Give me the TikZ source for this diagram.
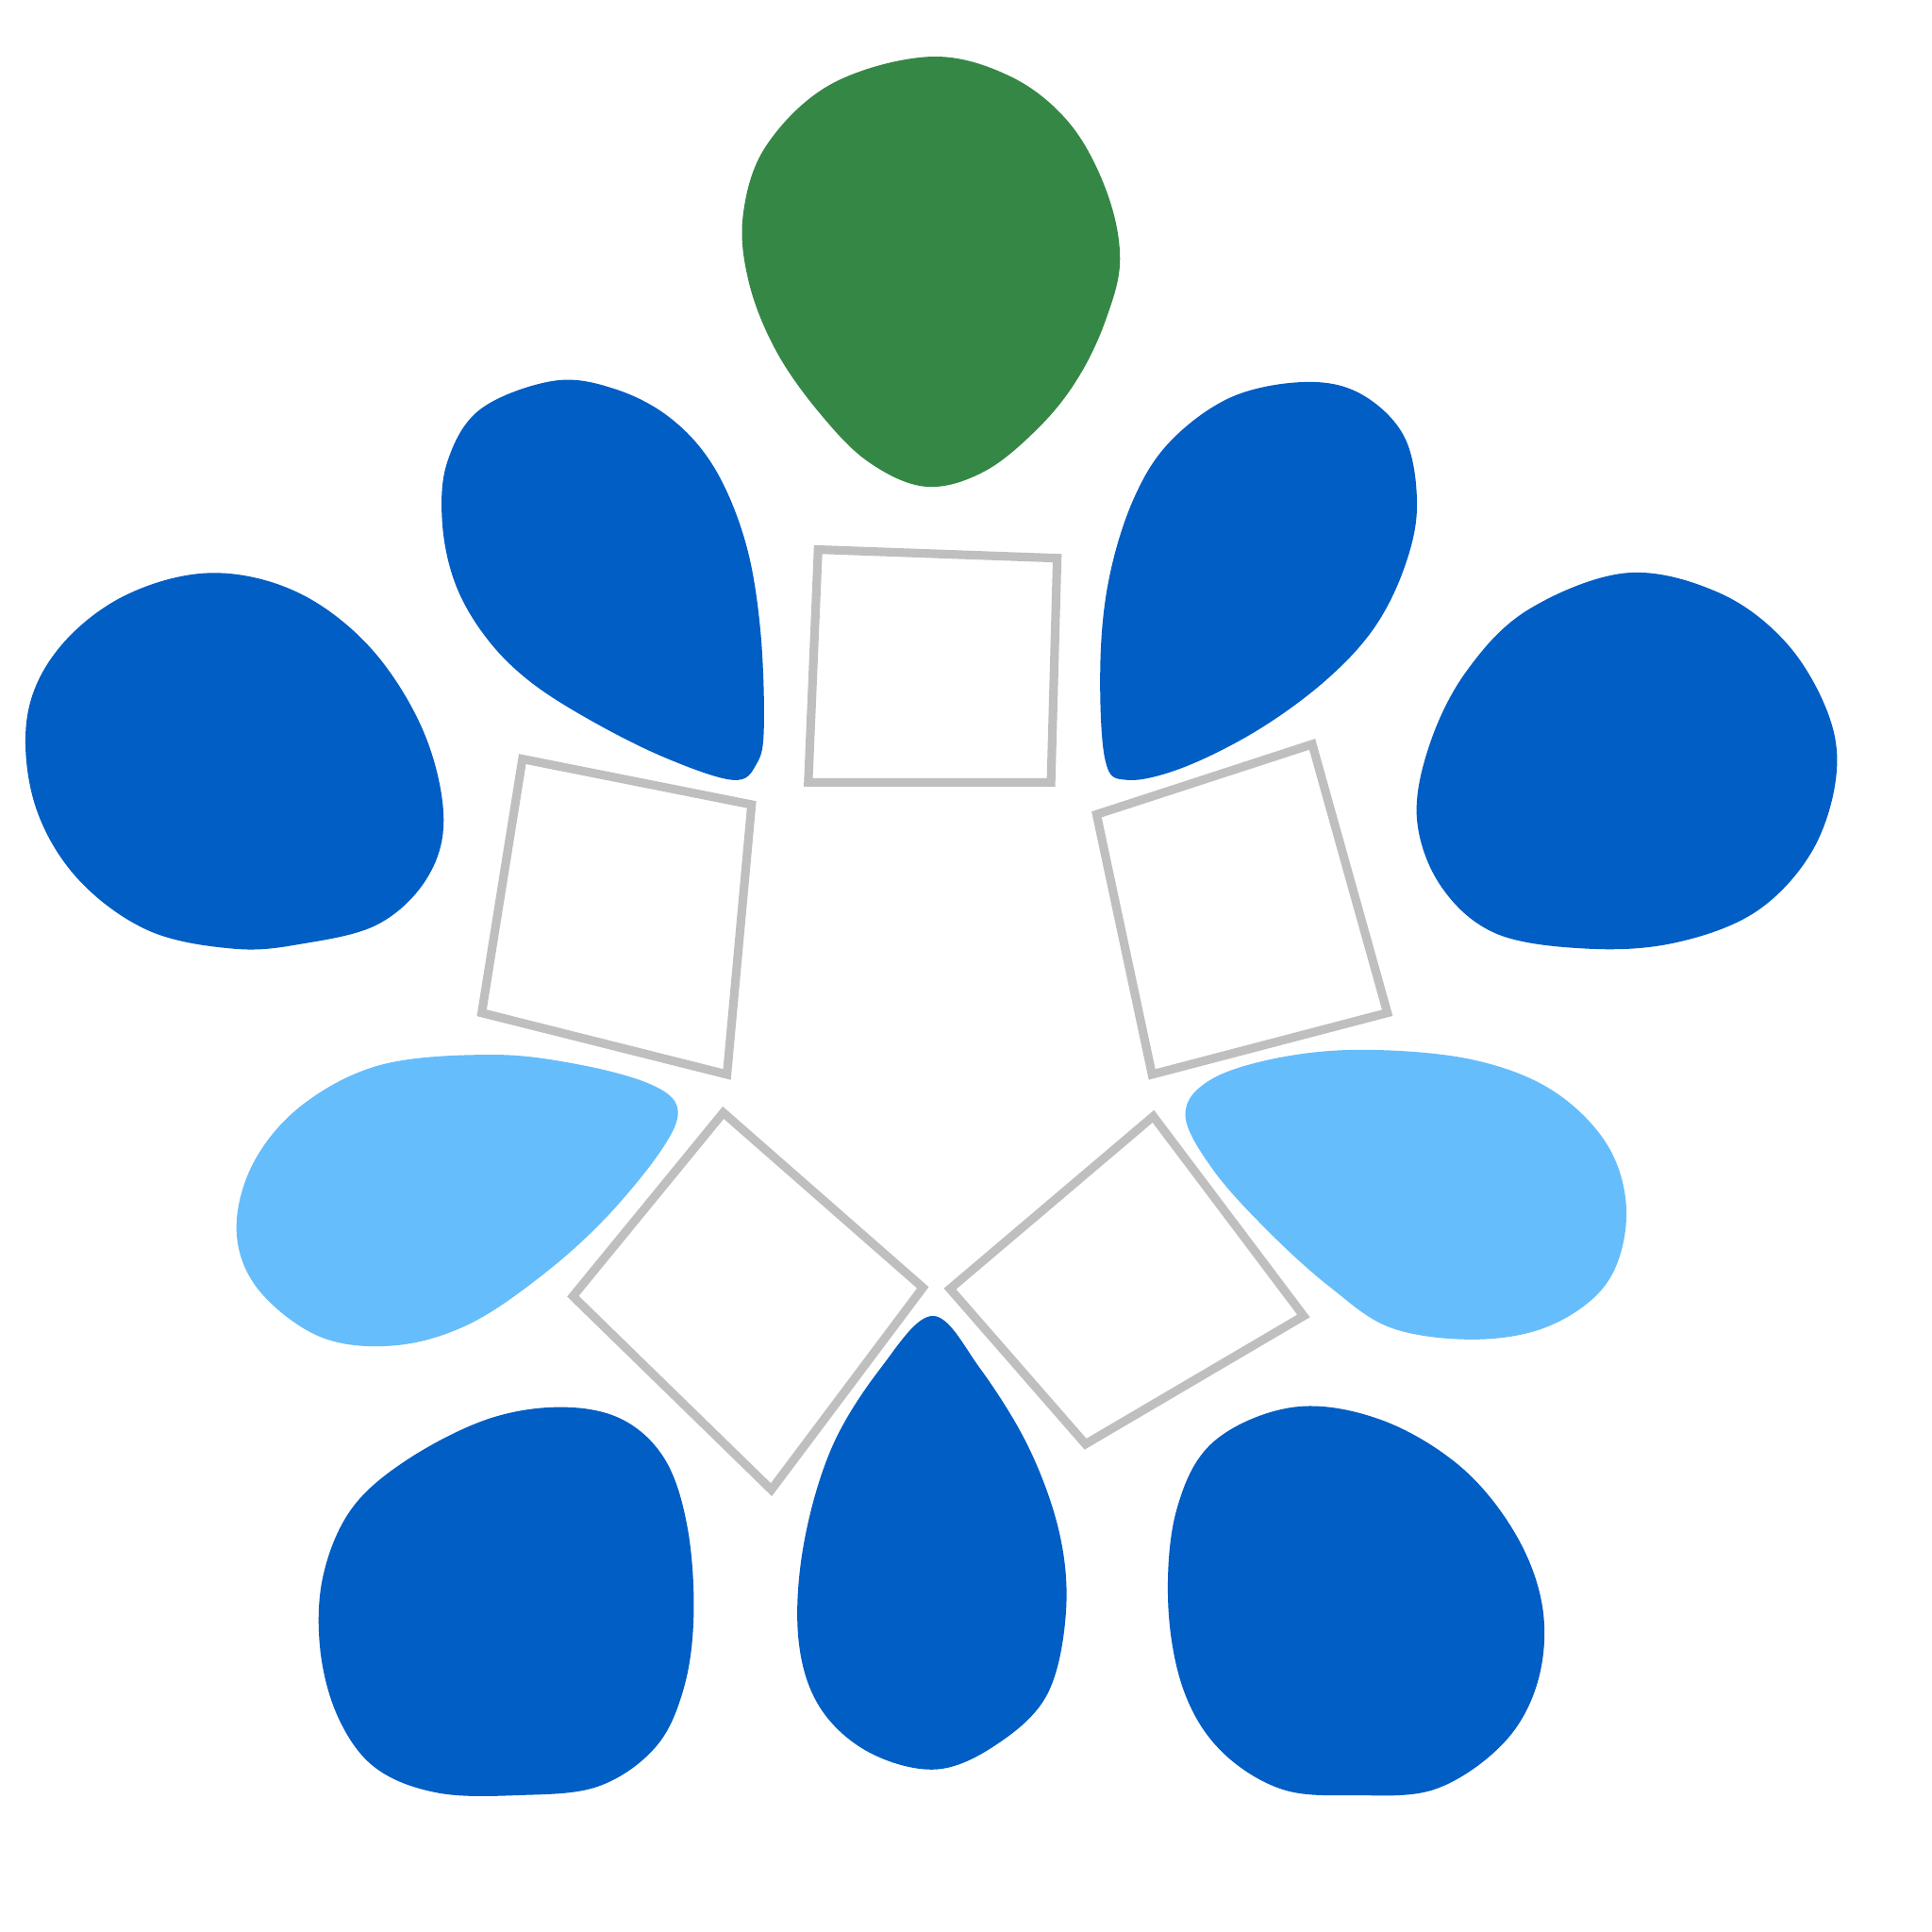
\documentclass[tikz,border=0pt]{standalone}
\definecolor{leafgreen}{HTML}{358746}
\definecolor{leafblue}{HTML}{005EC4}
\definecolor{leaflight}{HTML}{66BDFB}
\definecolor{framegray}{HTML}{BFBFBF}
\begin{document}
\begin{tikzpicture}[x=0.01cm,y=-0.01cm,
  frame/.style={draw=framegray,line width=7*0.01cm,line join=miter}]
\useasboundingbox (0,0) rectangle (1568,1568);
\tikzset{leaf/.style={smooth cycle,tension=0.6}}
% green top
\fill[leafgreen] plot[leaf] coordinates {(755,46)(820,62)(868,100)(898,155)(909,210)(898,258)(876,305)(845,345)(800,382)(752,395)(705,375)(665,335)(630,285)(608,230)(603,175)(622,118)(675,68)};
% upper-left
\fill[leafblue] plot[leaf] coordinates {(450,309)(500,316)(545,340)(580,380)(605,440)(617,510)(620,590)(614,620)(595,633)(540,615)(480,585)(430,553)(395,518)(370,475)(359,425)(363,375)(390,332)};
% upper-right
\fill[leafblue] plot[leaf] coordinates {(1060,310)(1105,320)(1140,355)(1150,410)(1140,460)(1115,510)(1075,553)(1020,593)(960,623)(915,633)(897,617)(893,540)(900,470)(920,405)(950,358)(1000,322)};
% left
\fill[leafblue] plot[leaf] coordinates {(170,465)(240,480)(300,525)(343,592)(360,662)(347,712)(307,750)(245,766)(190,770)(120,755)(62,712)(28,652)(22,582)(47,527)(100,484)};
% right
\fill[leafblue] plot[leaf] coordinates {(1320,465)(1395,481)(1450,522)(1484,580)(1490,632)(1470,692)(1425,740)(1360,765)(1290,770)(1215,758)(1170,720)(1150,665)(1160,605)(1190,545)(1240,495)};
% light left
\fill[leaflight] plot[leaf] coordinates {(400,856)(470,864)(528,880)(550,900)(537,933)(492,988)(440,1035)(380,1075)(320,1092)(260,1085)(210,1047)(192,1000)(205,945)(245,897)(310,864)};
% light right
\fill[leaflight] plot[leaf] coordinates {(1110,852)(1195,860)(1260,885)(1305,930)(1320,985)(1305,1040)(1260,1075)(1200,1087)(1130,1078)(1080,1045)(1030,1000)(985,950)(962,905)(983,876)(1040,858)};
% bottom-left
\fill[leafblue] plot[leaf] coordinates {(455,1142)(505,1152)(540,1185)(558,1240)(563,1310)(555,1370)(532,1418)(485,1450)(420,1457)(355,1455)(305,1435)(275,1395)(260,1340)(262,1280)(285,1225)(330,1185)(395,1152)};
% bottom-center
\fill[leafblue] plot[leaf] coordinates {(757,1068)(795,1110)(835,1175)(860,1245)(865,1310)(850,1375)(810,1415)(760,1436)(705,1422)(665,1385)(648,1330)(652,1255)(675,1175)(715,1110)};
% bottom-right
\fill[leafblue] plot[leaf] coordinates {(1050,1142)(1120,1152)(1185,1190)(1230,1245)(1252,1305)(1248,1365)(1220,1415)(1165,1452)(1100,1457)(1040,1452)(990,1420)(960,1370)(948,1300)(955,1225)(985,1170)};
% frames
\draw[frame] (664,446) -- (858,453) -- (853,635) -- (656,635) -- cycle;
\draw[frame] (424,616) -- (610,653) -- (590,872) -- (391,822) -- cycle;
\draw[frame] (890,661) -- (1065,604) -- (1126,822) -- (935,872) -- cycle;
\draw[frame] (587,903) -- (749,1045) -- (626,1209) -- (465,1052) -- cycle;
\draw[frame] (771,1046) -- (936,906) -- (1058,1068) -- (881,1172) -- cycle;
\end{tikzpicture}
\end{document}
